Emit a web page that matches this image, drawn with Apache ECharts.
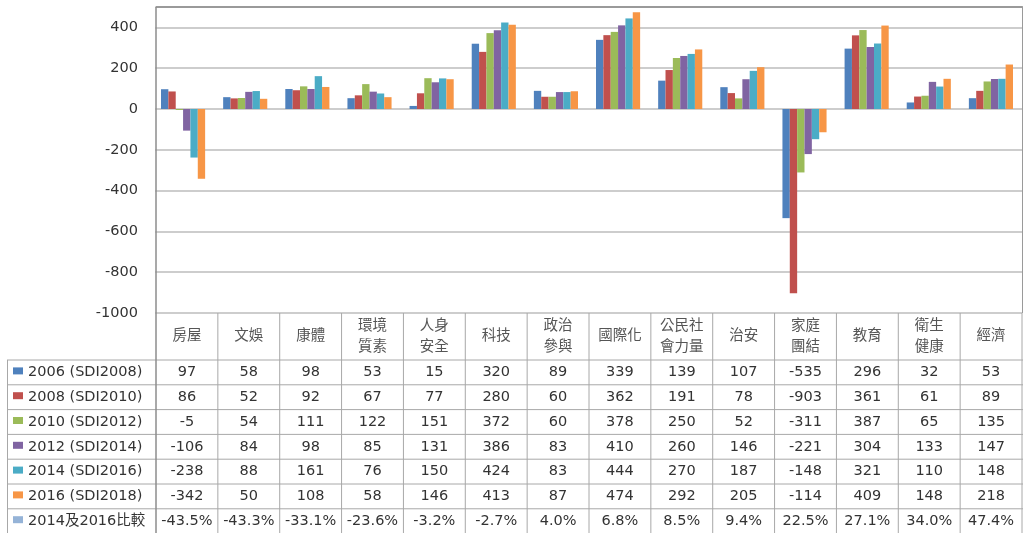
<!DOCTYPE html>
<html>
<head>
<meta charset="utf-8">
<script src="https://cdn.jsdelivr.net/npm/echarts@6/dist/echarts.min.js"></script>
<style>
html,body{margin:0;padding:0;background:#fff;}
#c{width:1024px;height:533px;}
</style>
</head>
<body>
<div id="c"></div>
<script>
// ---- data ----
const categories = ['房屋','文娛','康體','環境\n質素','人身\n安全','科技','政治\n參與','國際化','公民社\n會力量','治安','家庭\n團結','教育','衛生\n健康','經濟'];
const seriesNames = ['2006 (SDI2008)','2008 (SDI2010)','2010 (SDI2012)','2012 (SDI2014)','2014 (SDI2016)','2016 (SDI2018)'];
const s2006 = [97,58,98,53,15,320,89,339,139,107,-535,296,32,53];
const s2008 = [86,52,92,67,77,280,60,362,191,78,-903,361,61,89];
const s2010 = [-5,54,111,122,151,372,60,378,250,52,-311,387,65,135];
const s2012 = [-106,84,98,85,131,386,83,410,260,146,-221,304,133,147];
const s2014 = [-238,88,161,76,150,424,83,444,270,187,-148,321,110,148];
const s2016 = [-342,50,108,58,146,413,87,474,292,205,-114,409,148,218];
const compareName = '2014及2016比較';
const compareVals = ['-43.5%','-43.3%','-33.1%','-23.6%','-3.2%','-2.7%','4.0%','6.8%','8.5%','9.4%','22.5%','27.1%','34.0%','47.4%'];
const yTicks = {min:-1000, max:500, interval:200};

// ---- styles ----
const colors = ['#4F81BD','#C0504D','#9BBB59','#8064A2','#4BACC6','#F79646'];
const compareColor = '#95B3D7';
const FONT = "'DejaVu Sans','Noto Sans CJK TC',sans-serif";
const axisX = 156;               // visible value-axis line / table column start
const plotL = 152, gridR = 1022, gridT = 7, gridB = 313; // bar band
const tableL = 7, headerBottom = 360, rowH = 24.8;
const lineColor = '#a8a8a8';
const FS = 14.5;

const allSeries = [s2006,s2008,s2010,s2012,s2014,s2016];
const colW = (gridR - axisX) / categories.length;

const graphics = [];
function hline(x1,x2,y,c,w){graphics.push({type:'line',silent:true,z:10,shape:{x1:x1,y1:y,x2:x2,y2:y},style:{stroke:c||lineColor,lineWidth:w||1}});}
function vline(x,y1,y2,c,w){graphics.push({type:'line',silent:true,z:10,shape:{x1:x,y1:y1,x2:x,y2:y2},style:{stroke:c||lineColor,lineWidth:w||1}});}
function txt(x,y,t,align,fill){graphics.push({type:'text',silent:true,z:10,x:x,y:y,style:{text:t,font:FS+'px '+FONT,fill:fill||'#333',align:align||'center',verticalAlign:'middle'}});}

// hide the gridline stubs left of the visible axis line
graphics.push({type:'rect',silent:true,z:9,shape:{x:plotL-2,y:0,width:axisX-plotL+1.2,height:gridB+2},style:{fill:'#fff'}});
// plot frame
hline(axisX, gridR+1, gridT, '#8a8a8a', 1.5);
vline(gridR+0.5, gridT, gridB, '#9a9a9a', 1);

// table rows
const rows = allSeries.map((d,i)=>({name:seriesNames[i], color:colors[i], vals:d.map(String)}));
rows.push({name:compareName, color:compareColor, vals:compareVals});
const nRows = rows.length;
for (let r=0;r<=nRows;r++){ hline(tableL, gridR+1, headerBottom + r*rowH); }
vline(tableL+0.5, headerBottom, headerBottom+nRows*rowH);
vline(axisX, gridT, headerBottom+nRows*rowH, '#8c8c8c', 1.5);
for (let c=1;c<=categories.length;c++){
  vline(axisX + c*colW, gridB, headerBottom+nRows*rowH);
}
rows.forEach((row,r)=>{
  const cy = headerBottom + r*rowH + rowH/2;
  graphics.push({type:'rect',silent:true,z:10,shape:{x:13,y:cy-5,width:10,height:7},style:{fill:row.color}});
  txt(28, cy, row.name, 'left', '#333');
  row.vals.forEach((v,c)=>{ txt(axisX + c*colW + colW/2, cy, v, 'center', '#333'); });
});
// header category names centred in their table columns
categories.forEach((name,c)=>{
  graphics.push({type:'text',silent:true,z:10,x:axisX + c*colW + colW/2,y:(gridB+headerBottom)/2,
    style:{text:name,font:FS+'px '+FONT,fill:'#555',align:'center',verticalAlign:'middle',lineHeight:21}});
});

const chart = echarts.init(document.getElementById('c'), null, {renderer:'canvas'});
chart.setOption({
  animation:false,
  color: colors,
  grid:{left:plotL, right:1024-gridR, top:gridT, bottom:533-gridB, containLabel:false},
  xAxis:{
    type:'category', data:categories,
    axisLine:{show:false, onZero:false},
    axisTick:{show:false},
    axisLabel:{show:false}
  },
  yAxis:{
    type:'value', min:yTicks.min, max:yTicks.max, interval:yTicks.interval,
    axisLine:{show:false},
    axisTick:{show:false},
    splitLine:{lineStyle:{color:'#bdbdbd', width:1.5}},
    axisLabel:{margin:14, fontSize:FS, fontFamily:FONT, color:'#333',
      formatter:function(v){ return v > 400 ? '' : String(v); }}
  },
  series: allSeries.map((d,i)=>({
    name:seriesNames[i], type:'bar', data:d,
    barGap:'0%', barCategoryGap:'29%',
    itemStyle:{color:colors[i]}
  })),
  graphic: graphics
});
</script>
</body>
</html>
